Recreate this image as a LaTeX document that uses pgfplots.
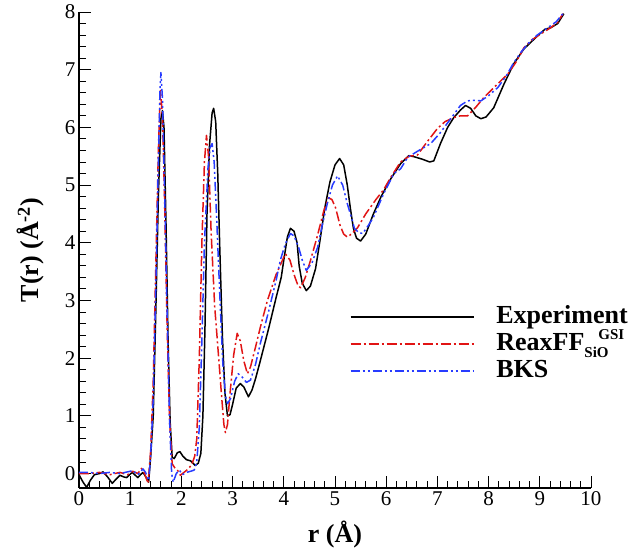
\documentclass[border=0pt]{standalone}
\usepackage{pgfplots}
\pgfplotsset{compat=1.18}
\usepackage{fontspec}
\setmainfont{Liberation Serif}
\definecolor{myred}{RGB}{225,20,20}
\definecolor{myblue}{RGB}{40,60,255}
\newcommand{\smallsc}[1]{{\fontsize{15bp}{15bp}\selectfont\bfseries #1}}
\begin{document}
\begin{tikzpicture}
\begin{axis}[
  scale only axis, width=512bp, height=476bp,
  xmin=0, xmax=10, ymin=-0.25, ymax=8,
  axis x line=bottom, axis y line=left,
  axis line style={-, line width=1.3bp},
  tick align=inside,
  xtick={0,1,...,10}, ytick={0,1,...,8},
  minor x tick num=4, minor y tick num=4,
  major tick length=12bp, minor tick length=7bp,
  every tick/.style={black, line width=0.9bp},
  tick label style={font=\fontsize{21bp}{24bp}\selectfont},
  /pgf/number format/assume math mode=true,
  xlabel={\textbf{r (Å)}},
  ylabel={\textbf{T(r) (Å\textsuperscript{-2})}},
  label style={font=\fontsize{26bp}{30bp}\selectfont},
  xlabel style={at={(axis description cs:0.5,-0.097)}, anchor=center},
  ylabel style={at={(axis description cs:-0.094,0.5)}, anchor=center, rotate=0},
  legend image code/.code={\draw[#1] (0bp,0bp) -- (123bp,0bp); \path (145bp,0bp);},
  legend style={at={(axis cs:5.29,2.95)}, anchor=north west, draw=none, fill=none,
    inner sep=0pt, outer sep=0pt,
    font=\fontsize{26bp}{27bp}\selectfont\bfseries, row sep=0bp,
    nodes={inner xsep=0bp, inner ysep=1bp, text height=19bp, text depth=6bp}},
  legend cell align=left,
]
\addplot[black, line width=1.5bp, line join=round] coordinates {
(0,-0.02)(0.08,-0.15)(0.15,-0.24)(0.22,-0.12)(0.3,-0.02)(0.4,0.0)(0.47,0.03)(0.56,-0.06)(0.65,-0.17)(0.72,-0.1)(0.8,-0.03)(0.88,-0.06)(0.93,-0.07)(1.0,-0.01)(1.04,0.02)(1.1,-0.03)(1.15,-0.07)(1.2,-0.02)(1.25,0.02)(1.3,-0.05)(1.36,-0.15)(1.4,0.3)(1.45,1.0)(1.5,2.8)(1.55,4.8)(1.6,6.15)(1.63,6.29)(1.66,6.0)(1.7,4.3)(1.74,2.3)(1.78,0.9)(1.82,0.28)(1.86,0.26)(1.92,0.36)(1.97,0.38)(2.03,0.3)(2.1,0.24)(2.18,0.22)(2.27,0.14)(2.33,0.18)(2.38,0.35)(2.42,1.0)(2.46,2.5)(2.5,4.5)(2.55,5.7)(2.6,6.25)(2.63,6.33)(2.67,6.1)(2.71,5.2)(2.75,3.9)(2.8,2.4)(2.85,1.4)(2.9,1.0)(2.95,1.02)(3.0,1.2)(3.07,1.48)(3.15,1.56)(3.22,1.5)(3.31,1.33)(3.38,1.45)(3.45,1.65)(3.54,1.95)(3.7,2.5)(3.85,3.05)(3.95,3.4)(4.0,3.7)(4.07,4.1)(4.13,4.25)(4.2,4.2)(4.26,4.0)(4.3,3.6)(4.36,3.3)(4.44,3.17)(4.52,3.25)(4.62,3.55)(4.7,4.0)(4.8,4.6)(4.9,5.05)(5.0,5.35)(5.09,5.46)(5.17,5.35)(5.24,5.0)(5.3,4.6)(5.36,4.25)(5.42,4.08)(5.5,4.03)(5.6,4.15)(5.75,4.5)(5.9,4.8)(6.09,5.11)(6.28,5.37)(6.44,5.51)(6.55,5.49)(6.7,5.45)(6.85,5.4)(6.93,5.42)(7.06,5.72)(7.2,6.0)(7.32,6.17)(7.45,6.3)(7.55,6.38)(7.65,6.33)(7.75,6.2)(7.85,6.15)(7.95,6.18)(8.1,6.34)(8.3,6.75)(8.49,7.1)(8.69,7.36)(8.96,7.59)(9.1,7.7)(9.22,7.73)(9.35,7.8)(9.47,7.97)
};
\addlegendentry{Experiment}
\addplot[myred, line width=1.5bp, line join=round, dash pattern=on 10bp off 3bp on 2bp off 3bp] coordinates {
(0,0.0)(0.2,0.0)(0.4,0.02)(0.6,-0.02)(0.8,0.02)(0.95,-0.02)(1.05,0.04)(1.15,0.0)(1.22,0.09)(1.28,0.0)(1.35,-0.17)(1.4,0.4)(1.45,1.6)(1.5,3.6)(1.55,5.6)(1.59,6.64)(1.63,6.2)(1.67,4.8)(1.72,2.6)(1.77,0.9)(1.82,0.17)(1.87,0.1)(1.93,0.05)(1.98,-0.03)(2.05,0.02)(2.12,0.07)(2.2,0.15)(2.26,0.3)(2.3,0.6)(2.35,2.0)(2.4,4.0)(2.45,5.4)(2.49,5.86)(2.53,5.5)(2.58,4.2)(2.65,2.9)(2.72,2.1)(2.78,1.4)(2.83,0.85)(2.86,0.71)(2.9,0.85)(2.95,1.39)(3.02,2.05)(3.09,2.43)(3.15,2.3)(3.22,1.95)(3.29,1.73)(3.35,1.85)(3.45,2.2)(3.54,2.53)(3.68,3.0)(3.85,3.45)(4.03,3.81)(4.12,3.7)(4.2,3.45)(4.28,3.25)(4.33,3.22)(4.42,3.4)(4.52,3.69)(4.65,4.1)(4.78,4.55)(4.87,4.78)(4.94,4.75)(5.01,4.61)(5.1,4.3)(5.17,4.15)(5.24,4.1)(5.32,4.15)(5.44,4.26)(5.6,4.5)(5.8,4.75)(5.95,4.92)(6.1,5.15)(6.28,5.4)(6.45,5.5)(6.61,5.52)(6.8,5.75)(7.0,5.98)(7.15,6.1)(7.32,6.17)(7.45,6.2)(7.59,6.2)(7.75,6.35)(7.91,6.52)(8.15,6.73)(8.38,6.93)(8.55,7.15)(8.69,7.38)(8.85,7.52)(9.02,7.62)(9.2,7.72)(9.35,7.82)(9.45,7.97)
};
\addlegendentry{ReaxFF\rlap{\hspace{14bp}\raisebox{11bp}{\smallsc{GSI}}}\raisebox{-7bp}{\smallsc{SiO}}}
\addplot[myblue, line width=1.5bp, line join=round, dash pattern=on 9bp off 3bp on 2bp off 3bp on 2bp off 3bp] coordinates {
(0,0.02)(0.2,0.02)(0.4,0.0)(0.6,0.02)(0.8,0.0)(0.95,0.03)(1.05,0.05)(1.15,-0.02)(1.25,0.08)(1.3,0.02)(1.36,-0.12)(1.4,0.3)(1.45,1.3)(1.5,3.2)(1.55,5.4)(1.58,6.6)(1.6,6.95)(1.63,6.5)(1.67,5.0)(1.72,2.8)(1.77,0.9)(1.81,0.0)(1.84,-0.15)(1.9,0.0)(1.96,0.06)(2.02,-0.02)(2.1,0.02)(2.18,0.04)(2.25,0.06)(2.3,0.2)(2.35,0.8)(2.4,2.3)(2.45,4.0)(2.52,5.3)(2.56,5.65)(2.6,5.72)(2.64,5.4)(2.69,4.4)(2.75,3.1)(2.81,1.9)(2.86,1.35)(2.9,1.21)(2.96,1.3)(3.04,1.6)(3.11,1.73)(3.18,1.68)(3.27,1.58)(3.35,1.62)(3.45,1.9)(3.54,2.25)(3.7,2.8)(3.85,3.35)(3.93,3.69)(4.03,3.98)(4.13,4.16)(4.2,4.12)(4.29,3.92)(4.36,3.7)(4.44,3.52)(4.55,3.65)(4.66,3.92)(4.75,4.3)(4.85,4.68)(4.95,5.0)(5.05,5.16)(5.15,5.0)(5.24,4.68)(5.3,4.5)(5.38,4.25)(5.46,4.18)(5.54,4.16)(5.65,4.3)(5.75,4.44)(5.95,4.85)(6.15,5.2)(6.28,5.28)(6.42,5.48)(6.6,5.58)(6.87,5.72)(7.05,5.9)(7.26,6.15)(7.45,6.38)(7.59,6.46)(7.72,6.47)(7.85,6.46)(8.0,6.55)(8.18,6.69)(8.35,6.9)(8.49,7.12)(8.63,7.3)(8.77,7.45)(8.95,7.6)(9.16,7.73)(9.32,7.83)(9.45,7.97)
};
\addlegendentry{BKS}
\coordinate (bbl) at (rel axis cs:-0.1543,-0.1408);
\coordinate (btr) at (rel axis cs:1.0879,1.0252);
\end{axis}
\pgfresetboundingbox
\path (bbl) rectangle (btr);
\end{tikzpicture}
\end{document}
